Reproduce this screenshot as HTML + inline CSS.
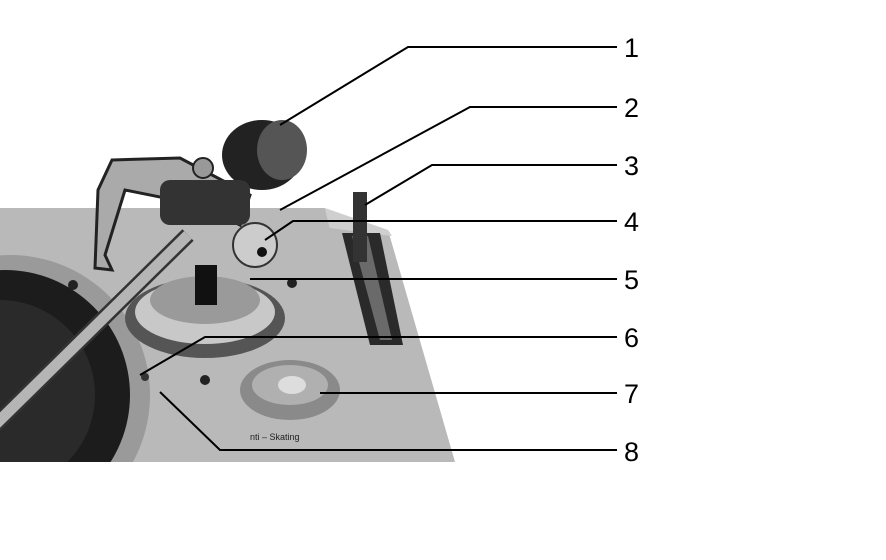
<!DOCTYPE html>
<html><head><style>
html,body{margin:0;padding:0;background:#fff;}
svg{display:block}
text{font-family:"Liberation Sans",sans-serif;font-size:27px;fill:#000}
</style></head><body>
<svg width="886" height="560" viewBox="0 0 886 560">
<!-- plate -->
<polygon points="0,208 325,208 330,228 388,230 455,462 0,462" fill="#b9b9b9"/>
<polygon points="325,208 388,230 392,236 330,228" fill="#cfcfcf"/>
<!-- platter -->
<circle cx="10" cy="395" r="140" fill="#9a9a9a"/>
<circle cx="5" cy="395" r="125" fill="#1c1c1c"/>
<circle cx="0" cy="395" r="95" fill="#2a2a2a"/>
<rect x="0" y="462" width="200" height="98" fill="#fff"/>
<!-- slot -->
<polygon points="342,233 380,233 403,345 370,345" fill="#2a2a2a"/>
<polygon points="352,236 368,236 392,340 380,340" fill="#6a6a6a"/>
<rect x="353" y="192" width="14" height="70" fill="#333"/>
<!-- tonearm base -->
<ellipse cx="205" cy="318" rx="80" ry="40" fill="#555"/>
<ellipse cx="205" cy="312" rx="70" ry="32" fill="#c8c8c8"/>
<ellipse cx="205" cy="300" rx="55" ry="24" fill="#9a9a9a"/>
<rect x="195" y="265" width="22" height="40" fill="#111"/>
<!-- knob 7 -->
<ellipse cx="290" cy="390" rx="50" ry="30" fill="#8a8a8a"/>
<ellipse cx="290" cy="385" rx="38" ry="20" fill="#b0b0b0"/>
<ellipse cx="292" cy="385" rx="14" ry="9" fill="#ddd"/>
<!-- holes -->
<circle cx="73" cy="285" r="5" fill="#222"/>
<circle cx="292" cy="283" r="5" fill="#222"/>
<circle cx="205" cy="380" r="5" fill="#222"/>
<circle cx="145" cy="377" r="4" fill="#333"/>
<!-- frame -->
<path d="M112,160 L180,158 L250,195 L240,225 L200,205 L125,190 L105,255 L112,270 L95,268 L98,190Z" fill="#aaa" stroke="#222" stroke-width="3"/>
<!-- counterweight -->
<ellipse cx="262" cy="155" rx="40" ry="35" fill="#222"/>
<ellipse cx="282" cy="150" rx="25" ry="30" fill="#555"/>
<rect x="160" y="180" width="90" height="45" rx="10" fill="#333"/>
<ellipse cx="255" cy="245" rx="22" ry="22" fill="#ccc" stroke="#333" stroke-width="2"/>
<circle cx="262" cy="252" r="5" fill="#111"/>
<circle cx="203" cy="168" r="10" fill="#999" stroke="#222" stroke-width="2"/>
<!-- rod -->
<line x1="188" y1="235" x2="-5" y2="425" stroke="#333" stroke-width="16"/>
<line x1="188" y1="235" x2="-5" y2="425" stroke="#b5b5b5" stroke-width="11"/>
<text x="250" y="440" style="font-size:9px;fill:#222">nti – Skating</text>
<!-- leader lines -->
<g stroke="#000" stroke-width="2" fill="none">
<polyline points="280,125 408,47 617,47"/>
<polyline points="280,210 470,107 617,107"/>
<polyline points="365,205 432,165 617,165"/>
<polyline points="265,240 293,221 617,221"/>
<polyline points="250,279 617,279"/>
<polyline points="140,375 205,337 617,337"/>
<polyline points="320,393 617,393"/>
<polyline points="160,392 220,450 617,450"/>
</g>
<text x="624" y="57">1</text>
<text x="624" y="117">2</text>
<text x="624" y="175">3</text>
<text x="624" y="231">4</text>
<text x="624" y="289">5</text>
<text x="624" y="347">6</text>
<text x="624" y="403">7</text>
<text x="624" y="461">8</text>
</svg>
</body></html>
